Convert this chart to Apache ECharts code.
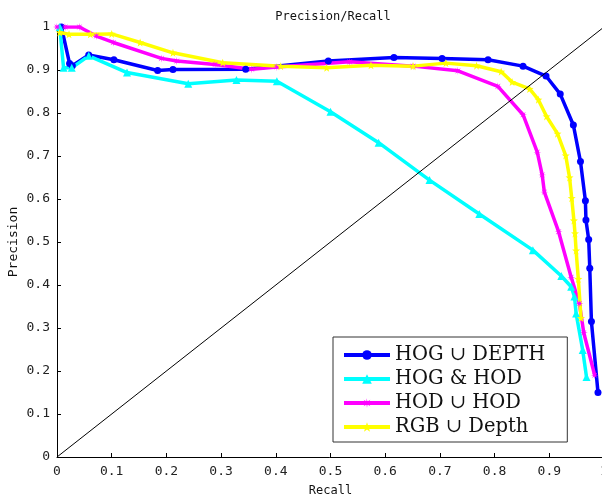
<!DOCTYPE html>
<html>
<head>
<meta charset="utf-8">
<script src="https://cdn.jsdelivr.net/npm/echarts@6/dist/echarts.min.js"></script>
<style>html,body{margin:0;padding:0;background:#fff;}#c{width:602px;height:502px;}</style>
</head>
<body>
<div id="c"></div>
<script>
var seriesNames = ['HOG \u222A DEPTH', 'HOG & HOD', 'HOD \u222A HOD', 'RGB \u222A Depth'];
var xTicks = [0, 0.1, 0.2, 0.3, 0.4, 0.5, 0.6, 0.7, 0.8, 0.9, 1];
var yTicks = [0, 0.1, 0.2, 0.3, 0.4, 0.5, 0.6, 0.7, 0.8, 0.9, 1];

var hogDepthRecall = [0.008,0.023,0.028,0.058,0.104,0.184,0.212,0.345,0.496,0.616,0.704,0.788,0.852,0.894,0.920,0.944,0.957,0.966,0.967,0.972,0.974,0.977,0.989];
var hogDepthPrec   = [1.000,0.915,0.910,0.935,0.924,0.899,0.901,0.902,0.921,0.929,0.927,0.924,0.909,0.886,0.844,0.772,0.687,0.596,0.551,0.506,0.439,0.315,0.150];

var hogHodRecall = [0.005,0.012,0.027,0.058,0.128,0.240,0.328,0.402,0.500,0.588,0.681,0.772,0.870,0.922,0.940,0.946,0.949,0.961,0.968];
var hogHodPrec   = [1.000,0.905,0.905,0.933,0.894,0.868,0.877,0.874,0.803,0.731,0.644,0.565,0.481,0.421,0.396,0.373,0.334,0.249,0.186];

var hodHodRecall = [0.000,0.015,0.041,0.072,0.103,0.191,0.219,0.289,0.356,0.402,0.535,0.651,0.733,0.806,0.852,0.878,0.887,0.891,0.917,0.940,0.955,0.963,0.983];
var hodHodPrec   = [1.000,1.000,1.000,0.979,0.964,0.927,0.921,0.913,0.902,0.907,0.919,0.909,0.898,0.862,0.796,0.709,0.656,0.616,0.524,0.418,0.357,0.289,0.190];

var rgbDepthRecall = [0.005,0.022,0.061,0.100,0.152,0.212,0.303,0.409,0.493,0.574,0.651,0.711,0.767,0.812,0.832,0.864,0.880,0.895,0.915,0.930,0.937,0.941,0.945,0.947,0.949,0.953,0.958];
var rgbDepthPrec   = [0.987,0.983,0.983,0.984,0.964,0.940,0.917,0.909,0.905,0.911,0.909,0.916,0.910,0.896,0.872,0.856,0.831,0.792,0.752,0.701,0.650,0.602,0.550,0.520,0.480,0.414,0.323];

var diagX = [0, 1];
var diagY = [0, 1];

function zip(a, b) { return a.map(function (v, i) { return [v, b[i]]; }); }

var asterisk = 'path://M9,0 L11,7 L17,3 L13,9 L20,10 L13,11 L17,17 L11,13 L10,20 L9,13 L3,17 L7,11 L0,10 L7,9 L3,3 L9,7 Z';
var star = 'path://M10,0 L12.4,7 L20,7.3 L14,12 L16.2,19.5 L10,15 L3.8,19.5 L6,12 L0,7.3 L7.6,7 Z';

var mono = 'DejaVu Sans Mono';
var chart = echarts.init(document.getElementById('c'), null, {renderer: 'canvas'});

function mk(name, data, color, symbol, size) {
  return {
    name: name, type: 'line', data: data,
    symbol: symbol, symbolSize: size, showSymbol: true,
    lineStyle: {color: color, width: 3.5},
    itemStyle: {color: color, borderWidth: 0},
    animation: false, z: 2
  };
}

chart.setOption({
  backgroundColor: '#fff',
  animation: false,
  title: {
    text: 'Precision/Recall', left: 328, top: 6, textAlign: 'center',
    textStyle: {fontFamily: mono, fontSize: 12, fontWeight: 'normal', color: '#111'}
  },
  grid: {left: 57, top: 27, width: 547, height: 430, containLabel: false, outerBoundsMode: 'none'},
  legend: {
    data: seriesNames,
    orient: 'vertical', left: 333, top: 337,
    padding: [8, 22, 5, 9],
    itemWidth: 46, itemHeight: 12, itemGap: 4,
    backgroundColor: '#fff', borderColor: '#333', borderWidth: 1,
    lineStyle: {width: 4},
    textStyle: {fontFamily: 'DejaVu Serif', fontSize: 19.5, color: '#111', lineHeight: 20}
  },
  xAxis: {
    type: 'value', min: 0, max: 1, interval: 0.1,
    name: 'Recall', nameLocation: 'middle', nameGap: 28, nameMoveOverlap: false,
    nameTextStyle: {fontFamily: mono, fontSize: 12, color: '#111'},
    axisLine: {show: true, onZero: false, lineStyle: {color: '#000', width: 1}},
    axisTick: {show: true, inside: true, length: 4, lineStyle: {color: '#000'}},
    axisLabel: {margin: 8, fontFamily: mono, fontSize: 13, color: '#222',
      formatter: function (v) { return String(+v.toFixed(1)); }},
    splitLine: {show: false}
  },
  yAxis: {
    type: 'value', min: 0, max: 1, interval: 0.1,
    name: 'Precision', nameLocation: 'middle', nameGap: 37, nameRotate: 90, nameMoveOverlap: false,
    nameTextStyle: {fontFamily: mono, fontSize: 13, color: '#111'},
    axisLine: {show: true, onZero: false, lineStyle: {color: '#000', width: 1}},
    axisTick: {show: true, inside: true, length: 4, lineStyle: {color: '#000'}},
    axisLabel: {margin: 7, fontFamily: mono, fontSize: 13, color: '#222',
      formatter: function (v) { return String(+v.toFixed(1)); }},
    splitLine: {show: false}
  },
  series: [
    mk(seriesNames[0], zip(hogDepthRecall, hogDepthPrec), '#0000ff', 'circle', 7),
    mk(seriesNames[1], zip(hogHodRecall, hogHodPrec), '#00ffff', 'triangle', 8),
    mk(seriesNames[2], zip(hodHodRecall, hodHodPrec), '#ff00ff', asterisk, 8),
    mk(seriesNames[3], zip(rgbDepthRecall, rgbDepthPrec), '#ffff00', star, 8),
    {
      name: 'diag', type: 'line', data: zip(diagX, diagY), symbol: 'none',
      lineStyle: {color: '#000', width: 1}, silent: true, z: 3, animation: false
    }
  ]
});
</script>
</body>
</html>
